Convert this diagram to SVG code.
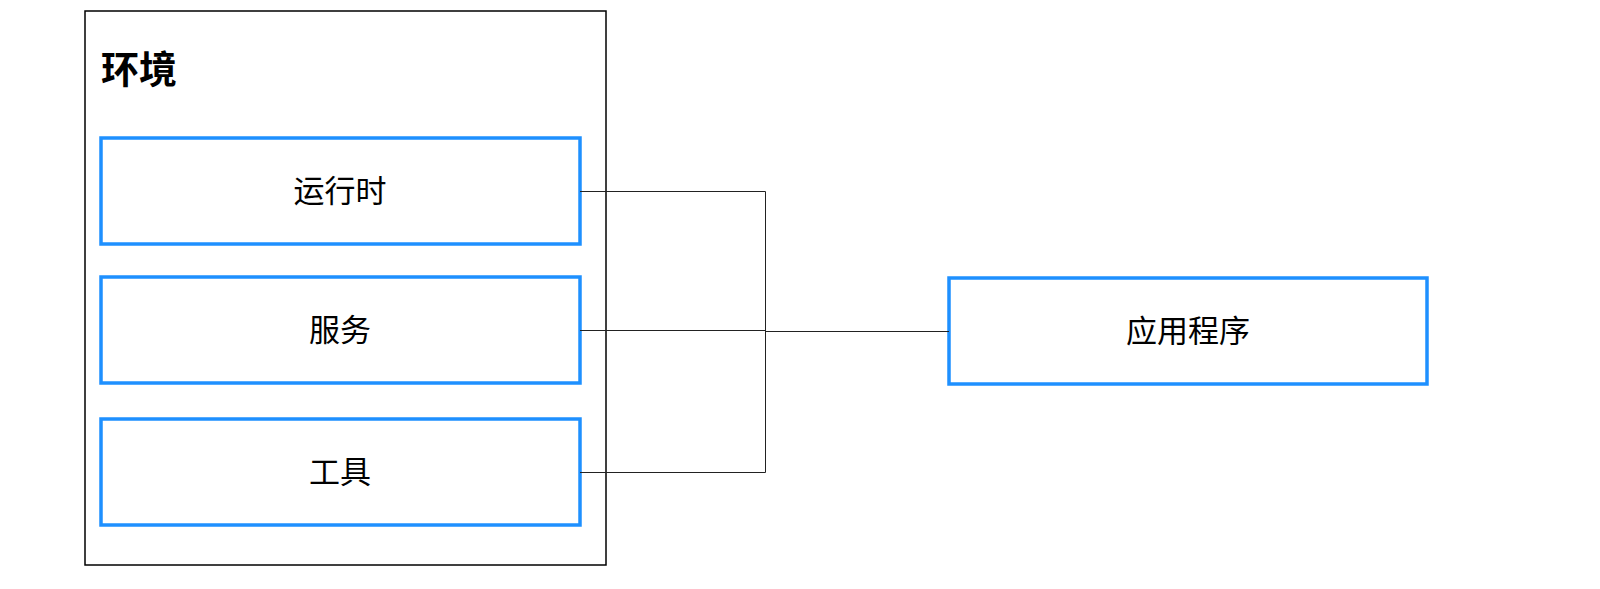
<svg xmlns="http://www.w3.org/2000/svg" width="1600" height="589" viewBox="0 0 1600 589">
<style>
.box{fill:#fff;stroke:#1e90ff;stroke-width:3.5}
.lbl{font-family:"Noto Sans CJK SC","Liberation Sans",sans-serif;font-size:31px;fill:#000;text-anchor:middle}
.title{font-family:"Noto Sans CJK SC","Liberation Sans",sans-serif;font-size:38px;font-weight:bold;fill:#000}
.conn{fill:none;stroke:#222;stroke-width:1}
</style>
<rect width="1600" height="589" fill="#fff"/>
<g id="env">
<rect x="85" y="11" width="521" height="554" fill="#fff" stroke="#000" stroke-width="1.5"/>
<text class="title" x="101" y="83">环境</text>
</g>
<g id="runtime">
<rect class="box" x="101" y="138" width="479" height="106"/>
<text class="lbl" x="340" y="202">运行时</text>
</g>
<g id="services">
<rect class="box" x="101" y="277" width="479" height="106"/>
<text class="lbl" x="340" y="341">服务</text>
</g>
<g id="tools">
<rect class="box" x="101" y="419" width="479" height="106"/>
<text class="lbl" x="340" y="483">工具</text>
</g>
<g id="app">
<rect class="box" x="949" y="278" width="478" height="106"/>
<text class="lbl" x="1188" y="342">应用程序</text>
</g>
<g id="connectors">
<path class="conn" d="M580 191.5H765.5V472.5H580"/>
<path class="conn" d="M580 330.5H765.5"/>
<path class="conn" d="M765.5 331.5H949"/>
</g>
</svg>
